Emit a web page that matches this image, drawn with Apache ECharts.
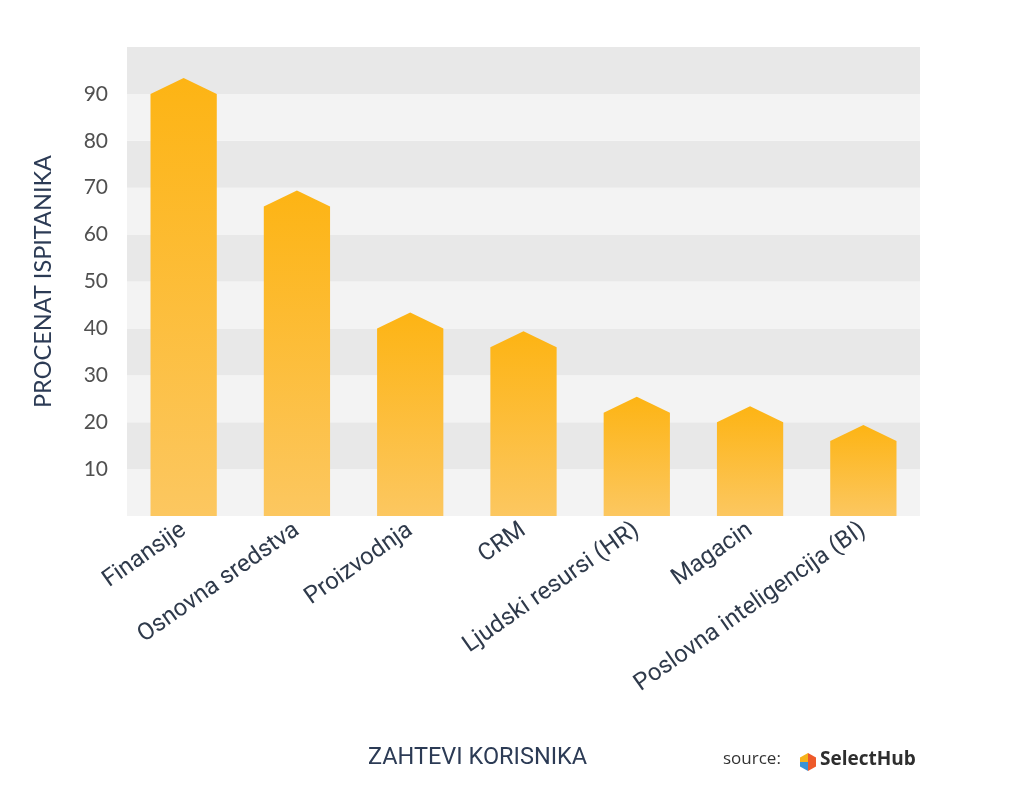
<!DOCTYPE html>
<html>
<head>
<meta charset="utf-8">
<style>html,body{margin:0;padding:0;background:#fff}#c{width:1024px;height:811px}</style>
<script src="https://cdn.jsdelivr.net/npm/echarts@6/dist/echarts.min.js"></script>
</head>
<body>
<div id="c"></div>
<script>
const categories = ['Finansije', 'Osnovna sredstva', 'Proizvodnja', 'CRM', 'Ljudski resursi (HR)', 'Magacin', 'Poslovna inteligencija (BI)'];
const values = [90, 66, 40, 36, 22, 20, 16];
const yAxisTitle = 'PROCENAT ISPITANIKA';
const xAxisTitle = 'ZAHTEVI KORISNIKA';

const chart = echarts.init(document.getElementById('c'), null, {renderer: 'canvas'});
const PEAK = 16;
const option = {
  backgroundColor: '#ffffff',
  animation: false,
  grid: {left: 127, right: 104, top: 47, bottom: 295, containLabel: false},
  xAxis: {
    type: 'category',
    data: categories,
    axisLine: {show: false},
    axisTick: {show: false},
    axisLabel: {
      rotate: 35, margin: 12, interval: 0,
      fontFamily: 'Roboto', fontSize: 24, color: '#2f3a4b'
    }
  },
  yAxis: {
    type: 'value', min: 0, max: 100, interval: 10,
    name: yAxisTitle, nameLocation: 'middle', nameGap: 72,
    nameTextStyle: {fontFamily: 'Lato', fontSize: 23.5, color: '#2c3b55'},
    axisLine: {show: false}, axisTick: {show: false},
    splitLine: {show: false},
    splitArea: {show: true, areaStyle: {color: ['#f3f3f3', '#e8e8e8']}},
    axisLabel: {
      margin: 19, fontFamily: 'Lato', fontSize: 21, color: '#505050',
      formatter: v => (v === 0 || v === 100) ? '' : String(v)
    }
  },
  series: [{
    type: 'custom',
    data: values.map((v, i) => [i, v]),
    encode: {x: 0, y: 1},
    renderItem: function (params, api) {
      const idx = api.value(0);
      const val = api.value(1);
      const top = api.coord([idx, val]);
      const base = api.coord([idx, 0]);
      const bw = api.size([1, 0])[0] * 0.585;
      const l = top[0] - bw / 2, r = top[0] + bw / 2;
      return {
        type: 'polygon',
        shape: {points: [[l, base[1]], [l, top[1]], [top[0], top[1] - PEAK], [r, top[1]], [r, base[1]]]},
        style: {
          fill: new echarts.graphic.LinearGradient(0, 0, 0, 1, [
            {offset: 0, color: '#fdb414'},
            {offset: 1, color: '#fcc760'}
          ])
        }
      };
    }
  }],
  graphic: [
    {type: 'text', left: 368, top: 746, style: {text: xAxisTitle, fontFamily: 'Roboto', fontSize: 23.5, fill: '#2c3b55'}},
    {type: 'text', left: 723, top: 751, style: {text: 'source:', fontFamily: 'Open Sans', fontSize: 17, fill: '#333333'}},
    {type: 'polygon', shape: {points: [[808, 753], [800, 757.5], [800, 762], [808, 762]]}, style: {fill: '#f6b21b'}},
    {type: 'polygon', shape: {points: [[808, 753], [816, 757.5], [816, 766.5], [808, 771], [808, 762]]}, style: {fill: '#ee5a2a'}},
    {type: 'polygon', shape: {points: [[800, 762], [800, 766.5], [808, 771], [808, 762]]}, style: {fill: '#3a93d6'}},
    {type: 'text', left: 820, top: 750, style: {text: 'SelectHub', fontFamily: 'Open Sans', fontWeight: 'bold', fontSize: 19, fill: '#2e2e2e'}}
  ]
};
chart.setOption(option);
</script>
</body>
</html>
